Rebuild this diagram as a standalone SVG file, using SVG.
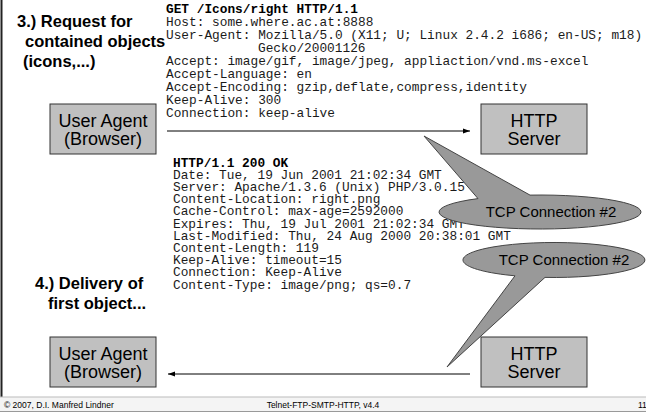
<svg xmlns="http://www.w3.org/2000/svg" width="646" height="412" viewBox="0 0 646 412">
<defs>
<style>
.mono{font-family:"Liberation Mono","Courier New",monospace;font-size:12.8px;fill:#1a1a1a}
.monob{font-family:"Liberation Mono","Courier New",monospace;font-size:12.8px;font-weight:bold;fill:#000}
.head{font-family:"Liberation Sans",Arial,sans-serif;font-size:16.5px;font-weight:bold;fill:#000}
.box{fill:#c0c0c0;stroke:#333;stroke-width:1}
.boxt{font-family:"Liberation Sans",Arial,sans-serif;font-size:18px;fill:#000;text-anchor:middle}
.bub{fill:#999;stroke:#444;stroke-width:1}
.bubt{font-family:"Liberation Sans",Arial,sans-serif;font-size:15px;fill:#000;text-anchor:middle}
.foot{font-family:"Liberation Sans",Arial,sans-serif;font-size:8.5px;fill:#000}
.conn{stroke:#000;stroke-width:1;fill:none}
</style>
<marker id="arr" markerWidth="8" markerHeight="6" refX="7" refY="3" orient="auto" markerUnits="userSpaceOnUse">
<path d="M0,0.5 L7,3 L0,5.5 Z" fill="#000"/>
</marker>
</defs>
<rect width="646" height="412" fill="#fff"/>
<rect x="0" y="397" width="646" height="15" fill="#f4f4f4"/>
<line x1="1.5" y1="0" x2="1.5" y2="397" stroke="#222" stroke-width="2"/>
<line x1="0" y1="397" x2="646" y2="397" stroke="#bbb" stroke-width="1"/>
<line x1="0" y1="411.5" x2="646" y2="411.5" stroke="#999" stroke-width="1"/>

<g id="heading3">
<text class="head" x="17" y="27">3.) Request for</text>
<text class="head" x="25" y="47">contained objects</text>
<text class="head" x="23" y="67">(icons,...)</text>
</g>
<g id="heading4">
<text class="head" x="35" y="289">4.) Delivery of</text>
<text class="head" x="48" y="309">first object...</text>
</g>

<g id="request-text">
<text class="monob" x="166" y="12.7">GET /Icons/right HTTP/1.1</text>
<text class="mono" x="166" y="25.7">Host: some.where.ac.at:8888</text>
<text class="mono" x="166" y="38.7">User-Agent: Mozilla/5.0 (X11; U; Linux 2.4.2 i686; en-US; m18)</text>
<text class="mono" x="258" y="51.7">Gecko/20001126</text>
<text class="mono" x="166" y="64.7">Accept: image/gif, image/jpeg, appliaction/vnd.ms-excel</text>
<text class="mono" x="166" y="77.7">Accept-Language: en</text>
<text class="mono" x="166" y="90.7">Accept-Encoding: gzip,deflate,compress,identity</text>
<text class="mono" x="166" y="103.7">Keep-Alive: 300</text>
<text class="mono" x="166" y="116.7">Connection: keep-alive</text>
</g>

<g id="response-text">
<text class="monob" x="173" y="166.5">HTTP/1.1 200 OK</text>
<text class="mono" x="173" y="178.7">Date: Tue, 19 Jun 2001 21:02:34 GMT</text>
<text class="mono" x="173" y="190.9">Server: Apache/1.3.6 (Unix) PHP/3.0.15</text>
<text class="mono" x="173" y="203.1">Content-Location: right.png</text>
<text class="mono" x="173" y="215.3">Cache-Control: max-age=2592000</text>
<text class="mono" x="173" y="227.5">Expires: Thu, 19 Jul 2001 21:02:34 GMT</text>
<text class="mono" x="173" y="239.7">Last-Modified: Thu, 24 Aug 2000 20:38:01 GMT</text>
<text class="mono" x="173" y="251.9">Content-Length: 119</text>
<text class="mono" x="173" y="264.1">Keep-Alive: timeout=15</text>
<text class="mono" x="173" y="276.3">Connection: Keep-Alive</text>
<text class="mono" x="173" y="288.5">Content-Type: image/png; qs=0.7</text>
</g>

<g id="connectors">
<line class="conn" x1="167" y1="131" x2="470" y2="131" marker-end="url(#arr)"/>
<line class="conn" x1="470" y1="374" x2="168" y2="374" marker-end="url(#arr)"/>
</g>

<g id="ua-top">
<rect class="box" x="50" y="104" width="106" height="50"/>
<text class="boxt" x="103" y="127">User Agent</text>
<text class="boxt" x="103" y="145">(Browser)</text>
</g>
<g id="server-top">
<rect class="box" x="481" y="104" width="106" height="50"/>
<text class="boxt" x="534" y="127">HTTP</text>
<text class="boxt" x="534" y="145">Server</text>
</g>
<g id="ua-bottom">
<rect class="box" x="50" y="337" width="106" height="50"/>
<text class="boxt" x="103" y="360">User Agent</text>
<text class="boxt" x="103" y="378">(Browser)</text>
</g>
<g id="server-bottom">
<rect class="box" x="481" y="337" width="106" height="50"/>
<text class="boxt" x="534" y="360">HTTP</text>
<text class="boxt" x="534" y="378">Server</text>
</g>

<g id="callout1">
<path class="bub" d="M478,198.6 L424,136 L530,195.1 A101,17 0 1 1 478,198.6 Z"/>
<text class="bubt" x="551" y="217">TCP Connection #2</text>
</g>
<g id="callout2">
<path class="bub" d="M515,275.8 L447,367 L545,277.4 A91,17.5 0 1 0 515,275.8 Z"/>
<text class="bubt" x="564" y="265">TCP Connection #2</text>
</g>

<g id="footer">
<text class="foot" x="4" y="408">© 2007, D.I. Manfred Lindner</text>
<text class="foot" x="323" y="408" text-anchor="middle">Telnet-FTP-SMTP-HTTP, v4.4</text>
<text class="foot" x="638" y="408">11</text>
</g>
</svg>
